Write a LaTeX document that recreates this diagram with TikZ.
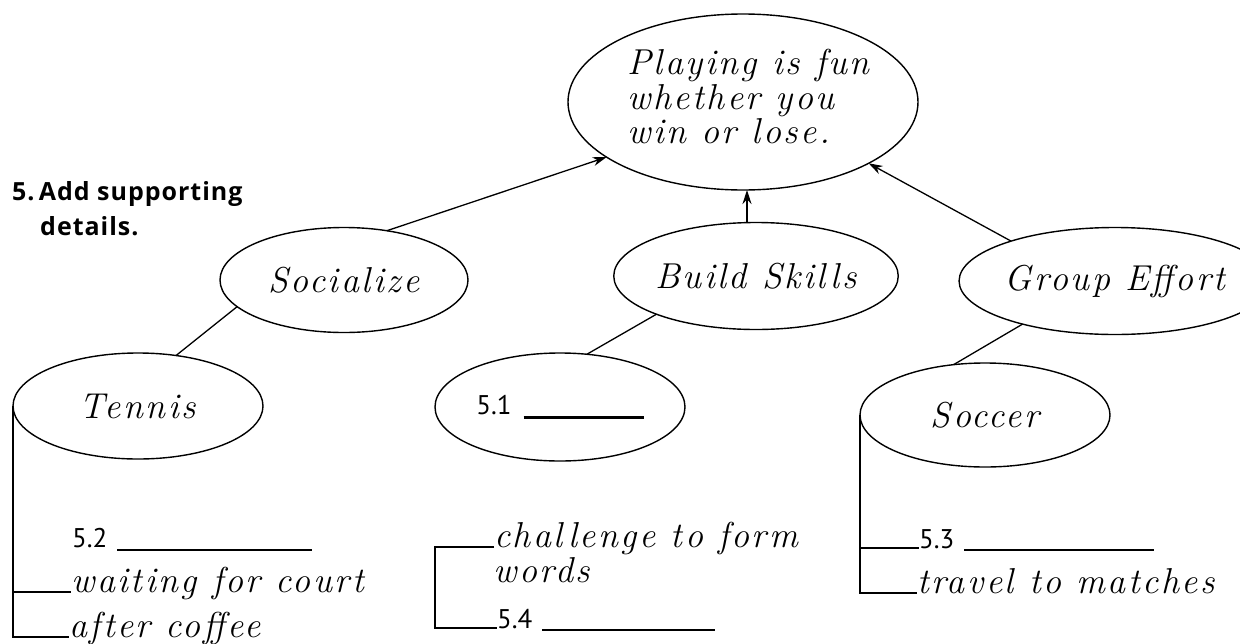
\documentclass[tikz,border=0pt]{standalone}
\usepackage{fontspec}
\usetikzlibrary{shapes.geometric,arrows.meta}
\newfontfamily\handfont{Latin Modern Roman}[LetterSpace=7]
\newfontfamily\labfont{PT Sans}
\newfontfamily\headfont{Open Sans}[LetterSpace=4]
\begin{document}
\begin{tikzpicture}[x=1pt,y=-1pt,
  oval/.style={draw,ellipse,line width=1.4pt,inner sep=0pt,outer sep=0pt},
  hw/.style={font=\handfont\itshape\fontsize{36}{40}\selectfont},
  lab/.style={font=\labfont\fontsize{27}{30}\selectfont,inner sep=0pt},
  head/.style={font=\headfont\bfseries\fontsize{25}{28}\selectfont,anchor=base west,inner sep=0pt},
  txt/.style={hw,inner sep=0pt},
  conn/.style={line width=1.3pt},
  arr/.style={line width=1.3pt,-{Stealth[length=14pt,width=9pt]}}]
\useasboundingbox (0,0) rectangle (1240,643);
% main idea
\node[oval,minimum width=350pt,minimum height=176pt] (top) at (743,102) {};
\node[txt,anchor=base west] (t1) at (627,74) {Playing is fun};
\node[txt,anchor=base west] (t2) at (627,109) {whether you};
\node[txt,anchor=base west] (t3) at (627,143) {win or lose.};
% heading
\node[head] (h1) at (12,200) {5.\,Add supporting};
\node[head] (h2) at (40,235) {details.};
% second level
\node[oval,hw,minimum width=248pt,minimum height=105pt] (soc) at (344,280) {Socialize};
\node[oval,hw,minimum width=248pt,minimum height=107pt] (bs) at (756,276) {Build Skills};
\node[oval,hw,minimum width=246pt,minimum height=107pt] (ge) at (1115,281) {Group Effort};
% third level
\node[oval,hw,minimum width=250pt,minimum height=106pt] (ten) at (138,406) {Tennis};
\node[oval,lab,minimum width=250pt,minimum height=108pt] (b51) at (560,407) {5.1\hspace{12pt}\rule[-5pt]{120pt}{3pt}};
\node[oval,hw,minimum width=250pt,minimum height=104pt] (scr) at (985,415) {Soccer};
% arrows to main idea
\draw[arr] (soc.49) -- (top.202);
\draw[arr] ([xshift=-9pt]bs.north) -- ([xshift=-9pt]bs.north |- top.south);
\draw[arr] (ge.159) -- (top.334);
% links to examples
\draw[conn] (soc.194) -- (ten.53);
\draw[conn] (bs.201) -- (b51.63);
\draw[conn] (ge.205) -- (scr.122);
% details: tennis
\node[lab,anchor=base west] (n52) at (72,547) {5.2\hspace{10pt}\rule[-4pt]{195pt}{1.6pt}};
\node[txt,anchor=base west] (wait) at (71,592) {waiting for court};
\node[txt,anchor=base west] (after) at (69,637) {after coffee};
\draw[conn] (ten.west) |- (wait.base west);
\draw[conn] (ten.west) |- (after.base west);
% details: build skills
\node[txt,anchor=base west] (chal) at (494,547) {challenge to form};
\node[txt,anchor=base west] (words) at (493,582) {words};
\node[lab,anchor=base west] (n54) at (497,628) {5.4\hspace{10pt}\rule[-3pt]{173pt}{1.6pt}};
\draw[conn] (chal.base west) -- (chal.base west -| b51.west) |- (n54.base west);
% details: soccer
\node[lab,anchor=base west] (n53) at (919,548) {5.3\hspace{10pt}\rule[-3pt]{190pt}{1.6pt}};
\node[txt,anchor=base west] (trav) at (917,593) {travel to matches};
\draw[conn] (scr.west) |- (n53.base west);
\draw[conn] (scr.west) |- (trav.base west);
\end{tikzpicture}
\end{document}
